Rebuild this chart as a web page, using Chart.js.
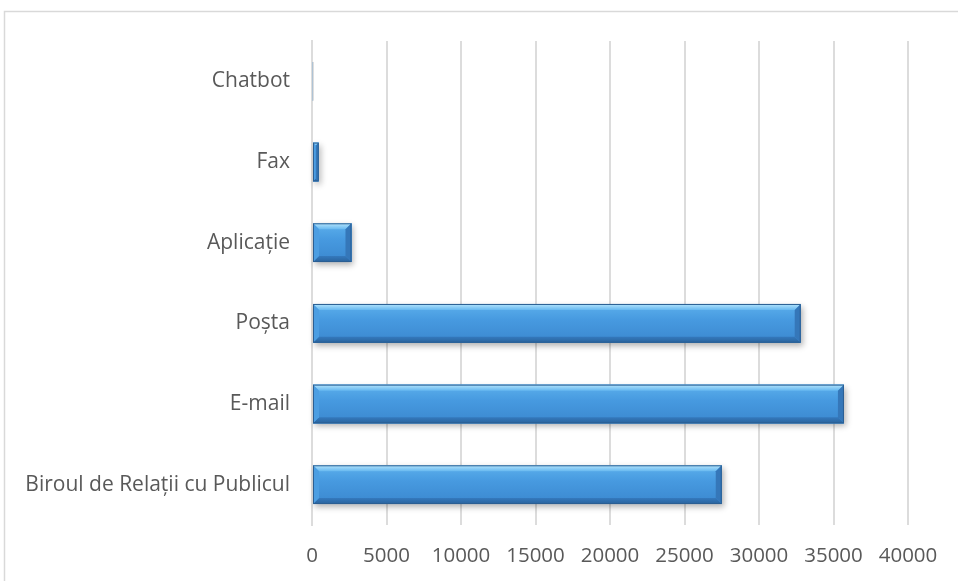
<!DOCTYPE html>
<html>
<head>
<meta charset="utf-8">
<script src="https://cdn.jsdelivr.net/npm/chart.js@4"></script>
<style>
  html, body { margin: 0; padding: 0; background: #fff; }
  #wrap { width: 958px; height: 581px; }
</style>
</head>
<body>
<div id="wrap"><canvas id="canalChart" width="958" height="581"></canvas></div>
<script>
const canale = ['Chatbot', 'Fax', 'Aplicație', 'Poșta', 'E-mail', 'Biroul de Relații cu Publicul'];
const solicitari = [40, 450, 2650, 32800, 35700, 27500];
const xTicks = [0, 5000, 10000, 15000, 20000, 25000, 30000, 35000, 40000];

const textColor = '#595959';
const gridColor = '#dcdcdc';
const fontFamily = "'Open Sans', 'Noto Sans', sans-serif";

// outer frame of the chart area (only top and left edges fall inside the canvas)
const frame = {
  id: 'frame',
  beforeDraw(chart) {
    const ctx = chart.ctx;
    ctx.save();
    ctx.strokeStyle = '#d9d9d9';
    ctx.lineWidth = 1.5;
    ctx.strokeRect(4.5, 11.5, chart.width + 20, chart.height + 20);
    ctx.restore();
  }
};

// bevelled bars with a soft drop shadow
const bevel = {
  id: 'bevel',
  beforeDatasetsDraw(chart) {
    const ctx = chart.ctx;
    const meta = chart.getDatasetMeta(0);
    ctx.save();
    meta.data.forEach(bar => {
      const left = Math.min(bar.base, bar.x), right = Math.max(bar.base, bar.x);
      if (right - left < 2) return;
      const top = bar.y - bar.height / 2;
      ctx.shadowColor = 'rgba(0,0,0,0.3)';
      ctx.shadowBlur = 6;
      ctx.shadowOffsetX = 2;
      ctx.shadowOffsetY = 3;
      ctx.fillStyle = '#3f8ad0';
      ctx.fillRect(left, top, right - left, bar.height);
    });
    ctx.restore();
  },
  afterDatasetsDraw(chart) {
    const ctx = chart.ctx;
    const meta = chart.getDatasetMeta(0);
    ctx.save();
    meta.data.forEach(bar => {
      const l = Math.min(bar.base, bar.x), r = Math.max(bar.base, bar.x);
      const t = bar.y - bar.height / 2, b = bar.y + bar.height / 2;
      const w = r - l;
      if (w < 2) {
        ctx.fillStyle = '#c8c8c8';
        ctx.fillRect(l, t, Math.max(w, 1), b - t);
        return;
      }
      // body
      const gBody = ctx.createLinearGradient(0, t, 0, b);
      gBody.addColorStop(0, '#5cb0ec');
      gBody.addColorStop(0.4, '#479ae0');
      gBody.addColorStop(1, '#3b88cf');
      ctx.fillStyle = gBody;
      ctx.fillRect(l, t, w, b - t);

      const d = Math.min(6, w / 2);
      const poly = (pts, fill) => {
        ctx.beginPath();
        ctx.moveTo(pts[0][0], pts[0][1]);
        for (let i = 1; i < pts.length; i++) ctx.lineTo(pts[i][0], pts[i][1]);
        ctx.closePath();
        ctx.fillStyle = fill;
        ctx.fill();
      };
      // top highlight
      const gTop = ctx.createLinearGradient(0, t, 0, t + d);
      gTop.addColorStop(0, '#b4e4fc');
      gTop.addColorStop(1, '#66b8f0');
      poly([[l, t], [r, t], [r - d, t + d], [l + d, t + d]], gTop);
      // bottom shade
      const gBot = ctx.createLinearGradient(0, b - d, 0, b);
      gBot.addColorStop(0, '#3479bd');
      gBot.addColorStop(1, '#2a639c');
      poly([[l, b], [r, b], [r - d, b - d], [l + d, b - d]], gBot);
      // left and right ends
      poly([[l, t], [l + d, t + d], [l + d, b - d], [l, b]], '#4c9ee2');
      poly([[r, t], [r - d, t + d], [r - d, b - d], [r, b]], '#3577b9');
      ctx.strokeStyle = '#2b5f93';
      ctx.lineWidth = 1;
      ctx.strokeRect(l + 0.5, t + 0.5, w - 1, b - t - 1);
    });
    ctx.restore();
  }
};

const ctx = document.getElementById('canalChart').getContext('2d');
new Chart(ctx, {
  type: 'bar',
  data: {
    labels: canale,
    datasets: [{
      label: 'Solicitări',
      data: solicitari,
      backgroundColor: '#4496de',
      borderWidth: 0,
      barPercentage: 0.48,
      categoryPercentage: 1
    }]
  },
  options: {
    indexAxis: 'y',
    responsive: false,
    animation: false,
    layout: { padding: { top: 41, right: 50, left: 0, bottom: 0 } },
    plugins: {
      legend: { display: false },
      tooltip: { enabled: false }
    },
    scales: {
      x: {
        min: 0,
        max: 40000,
        afterBuildTicks: (s) => { s.ticks = xTicks.map(v => ({ value: v })); },
        afterFit: (s) => { s.height = 56; },
        grid: { color: gridColor, lineWidth: 2, drawTicks: false },
        border: { display: false },
        ticks: {
          color: textColor,
          padding: 19,
          font: { family: fontFamily, size: 20.5 },
          callback: (v) => String(v)
        }
      },
      y: {
        afterFit: (s) => { s.width = 312; },
        grid: { display: false, drawTicks: false },
        border: { color: gridColor, width: 2 },
        ticks: { color: textColor, padding: 22, font: { family: fontFamily, size: 21 } }
      }
    }
  },
  plugins: [frame, bevel]
});
</script>
</body>
</html>
